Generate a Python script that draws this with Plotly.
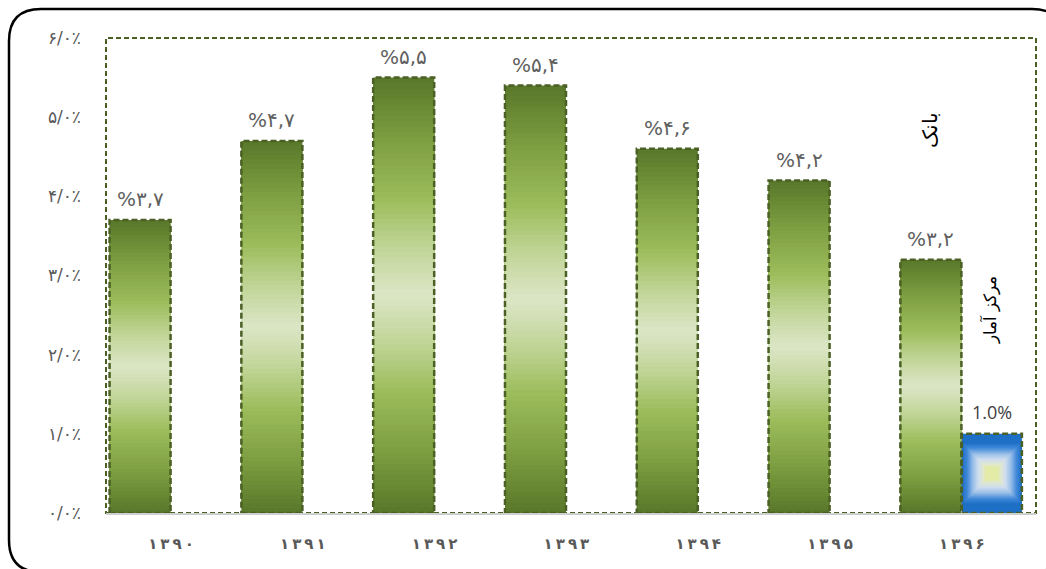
import plotly.graph_objects as go

# Share values (percent) per year
years = ["۱۳۹۰", "۱۳۹۱", "۱۳۹۲", "۱۳۹۳", "۱۳۹۴", "۱۳۹۵", "۱۳۹۶"]
bank = [3.7, 4.7, 5.5, 5.4, 4.6, 4.2, 3.2]
bank_labels = ["%۳,۷", "%۴,۷", "%۵,۵", "%۵,۴", "%۴,۶", "%۴,۲", "%۳,۲"]
markaz = [None, None, None, None, None, None, 1.0]
markaz_labels = ["", "", "", "", "", "", "1.0%"]
y_ticks = [0, 1, 2, 3, 4, 5, 6]
y_tick_text = ["۰/۰٪", "۱/۰٪", "۲/۰٪", "۳/۰٪", "۴/۰٪", "۵/۰٪", "۶/۰٪"]
series_names = ["بانک", "مرکز آمار"]

W_BANK, OFF_BANK = 0.463, -0.466
W_MARK, OFF_MARK = 0.456, 0.0
EDGE = "#4a6024"


def hex2rgb(h):
    h = h.lstrip("#")
    return tuple(int(h[i:i + 2], 16) for i in (0, 2, 4))


def ramp(stops, t):
    for (t0, c0), (t1, c1) in zip(stops, stops[1:]):
        if t <= t1:
            f = 0 if t1 == t0 else (t - t0) / (t1 - t0)
            a, b = hex2rgb(c0), hex2rgb(c1)
            return "rgb(%d,%d,%d)" % tuple(round(a[i] + (b[i] - a[i]) * f) for i in range(3))
    return stops[-1][1]


green_stops = [(0.0, "#5b792b"), (0.25, "#7a9b3f"), (0.55, "#9dbd5c"),
               (0.78, "#c2d69a"), (1.0, "#dde7c9")]
blue_stops = [(0.0, "#1e6fc6"), (0.2, "#3f88d8"), (0.45, "#9cc0e8"),
              (0.65, "#cddcef"), (0.85, "#dfe8cf"), (1.0, "#e4ec9e")]

fig = go.Figure()
xs = list(range(len(years)))
N = 40

# Bank bars: nested bars centred on each bar's mid-height give the shading
for k in range(N):
    t = k / N
    fig.add_trace(go.Bar(
        x=xs, y=[v * (1 - t) for v in bank], base=[v * t / 2 for v in bank],
        width=W_BANK, offset=OFF_BANK, marker=dict(color=ramp(green_stops, t), line=dict(width=0)),
        hoverinfo="skip", showlegend=False))

# Statistics centre bar: blue backing plus nested rectangles shrinking towards the centre
fig.add_trace(go.Bar(
    x=xs, y=markaz, width=W_MARK, offset=OFF_MARK,
    marker=dict(color=blue_stops[0][1], line=dict(width=0)),
    hoverinfo="skip", showlegend=False))
for k in range(N):
    t = k / N
    s = 1 - 0.82 * t
    wk = W_MARK * s
    fig.add_trace(go.Bar(
        x=xs, y=[None if v is None else v * s * 0.78 for v in markaz],
        base=[None if v is None else v * (1 - s * 0.78) / 2 for v in markaz],
        width=wk, offset=OFF_MARK + (W_MARK - wk) / 2,
        marker=dict(color=ramp(blue_stops, t), line=dict(width=0)),
        hoverinfo="skip", showlegend=False))

shapes = []
annotations = []
for i, v in enumerate(bank):
    x0 = i + OFF_BANK
    shapes.append(dict(type="rect", xref="x", yref="y", x0=x0, x1=x0 + W_BANK, y0=0, y1=v,
                       line=dict(color=EDGE, width=2.5, dash="6px,3px")))
    annotations.append(dict(x=x0 + W_BANK / 2, y=v, xref="x", yref="y", text=bank_labels[i],
                            showarrow=False, yanchor="bottom", yshift=7,
                            font=dict(family="DejaVu Sans", size=20, color="#5f5f5f")))
for i, v in enumerate(markaz):
    if v is None:
        continue
    x0 = i + OFF_MARK
    shapes.append(dict(type="rect", xref="x", yref="y", x0=x0, x1=x0 + W_MARK, y0=0, y1=v,
                       line=dict(color=EDGE, width=2.5, dash="6px,3px")))
    annotations.append(dict(x=x0 + W_MARK / 2, y=v, xref="x", yref="y", text=markaz_labels[i],
                            showarrow=False, yanchor="bottom", yshift=8,
                            font=dict(family="Open Sans", size=18, color="#404040")))

# Series names written vertically inside the plot
annotations.append(dict(x=5.76, y=4.84, xref="x", yref="y", text=series_names[0], textangle=-90,
                        showarrow=False, font=dict(family="DejaVu Serif", size=20, color="#000000")))
annotations.append(dict(x=6.215, y=2.56, xref="x", yref="y", text=series_names[1], textangle=-90,
                        showarrow=False, font=dict(family="DejaVu Serif", size=17, color="#000000")))

# Dashed plot-area frame
shapes.append(dict(type="rect", xref="paper", yref="paper", x0=0, x1=1, y0=0, y1=1, layer="below",
                   line=dict(color=EDGE, width=2, dash="5px,3px")))

# Rounded outer border (pixels converted to paper units)
PL, PR, PT, PB = 106, 1036, 38, 513


def px(xp):
    return (xp - PL) / (PR - PL)


def py(yp):
    return (PB - yp) / (PB - PT)


bx0, bx1, by0, by1, r = 9, 1064, 9, 572, 32
path = (f"M {px(bx0 + r)},{py(by0)} L {px(bx1 - r)},{py(by0)} Q {px(bx1)},{py(by0)} {px(bx1)},{py(by0 + r)} "
        f"L {px(bx1)},{py(by1 - r)} Q {px(bx1)},{py(by1)} {px(bx1 - r)},{py(by1)} "
        f"L {px(bx0 + r)},{py(by1)} Q {px(bx0)},{py(by1)} {px(bx0)},{py(by1 - r)} "
        f"L {px(bx0)},{py(by0 + r)} Q {px(bx0)},{py(by0)} {px(bx0 + r)},{py(by0)} Z")
shapes.append(dict(type="path", xref="paper", yref="paper", path=path,
                   line=dict(color="#000000", width=2.5)))

fig.update_layout(
    width=1046, height=569,
    margin=dict(l=PL, r=1046 - PR, t=PT, b=569 - PB),
    paper_bgcolor="white", plot_bgcolor="white",
    barmode="overlay", showlegend=False,
    shapes=shapes, annotations=annotations,
    xaxis=dict(range=[-0.493, 6.563], tickvals=xs,
               ticktext=["<b>" + "\u2009".join(list(y)) + "</b>" for y in years],
               showgrid=False, zeroline=False, showline=True, linecolor="#cfcfcf", linewidth=2,
               ticks="", ticklabelstandoff=16,
               tickfont=dict(family="DejaVu Sans", size=15, color="#595959")),
    yaxis=dict(range=[0, 6], tickvals=y_ticks, ticktext=y_tick_text,
               showgrid=False, zeroline=False, showline=False, ticks="",
               ticklabelstandoff=24,
               tickfont=dict(family="DejaVu Sans", size=17, color="#595959")),
)

fig.write_html("out.html")
